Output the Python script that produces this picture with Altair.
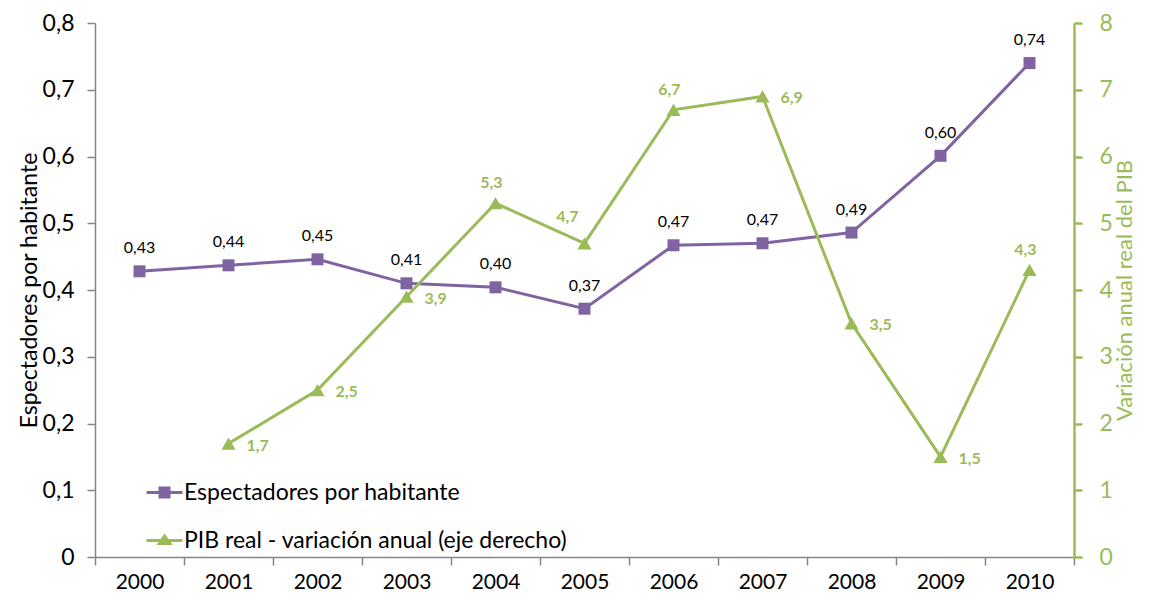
import json
import altair as alt
import pandas as pd

YEARS = ["2000", "2001", "2002", "2003", "2004", "2005", "2006", "2007", "2008", "2009", "2010"]
ESPECTADORES = [0.428, 0.437, 0.446, 0.410, 0.404, 0.372, 0.467, 0.470, 0.486, 0.601, 0.740]
PIB = [None, 1.7, 2.5, 3.9, 5.3, 4.7, 6.7, 6.9, 3.5, 1.5, 4.3]
SERIES = ["Espectadores por habitante", "PIB real - variación anual  (eje derecho)"]
LEFT_TICKS = [0, 0.1, 0.2, 0.3, 0.4, 0.5, 0.6, 0.7, 0.8]
RIGHT_TICKS = [0, 1, 2, 3, 4, 5, 6, 7, 8]
PIB_LABEL_ABOVE = ["2004", "2006", "2010"]
PIB_LABEL_ABOVE_LEFT = ["2005"]

PURPLE = "#8064A2"
GREEN = "#9BBB59"
GRAY = "#868686"
FONT = "Lato"

df = pd.DataFrame({"year": YEARS, "esp": ESPECTADORES, "pib": PIB})

x_enc = alt.X(
    "year:O",
    scale=alt.Scale(type="band", paddingInner=0, paddingOuter=0),
    axis=alt.Axis(
        title=None, tickBand="extent", labelAngle=0, grid=False,
        domainColor=GRAY, domainWidth=1.5, tickColor=GRAY, tickWidth=1.5, tickSize=8,
        labelFont=FONT, labelFontSize=21, labelColor="black", labelPadding=6,
    ),
)

base = alt.Chart(df).encode(x=x_enc)

y_left = alt.Y(
    "esp:Q",
    scale=alt.Scale(domain=[0, 0.8], nice=False, zero=True),
    axis=alt.Axis(
        orient="left", values=LEFT_TICKS, grid=False,
        labelExpr="datum.value == 0 ? '0' : replace(format(datum.value, '.1f'), '.', ',')",
        title="Espectadores por habitante", titleFont=FONT, titleFontSize=23,
        titleFontWeight="normal", titleColor="black", titlePadding=1,
        domainColor=GRAY, domainWidth=1.5, tickColor=GRAY, tickWidth=1.5, tickSize=8,
        labelFont=FONT, labelFontSize=23, labelColor="black", labelPadding=13,
    ),
)

esp_line = base.mark_line(color=PURPLE, strokeWidth=3).encode(y=y_left)
esp_pts = base.mark_point(shape="square", filled=True, size=144, color=PURPLE, opacity=1).encode(y=y_left)
esp_txt = base.mark_text(
    align="center", baseline="middle", dy=-23, font=FONT, fontSize=16, color="black"
).encode(y=y_left, text="lab:N").transform_calculate(
    lab="replace(format(datum.esp, '.2f'), '.', ',')"
)
esp_layer = alt.layer(esp_line, esp_pts, esp_txt)

y_right = alt.Y(
    "pib:Q",
    scale=alt.Scale(domain=[0, 8], nice=False, zero=True),
    axis=alt.Axis(
        orient="right", values=RIGHT_TICKS, format="d", grid=False,
        title="Variación anual real del PIB", titleFont=FONT, titleFontSize=22,
        titleFontWeight="normal", titleColor=GREEN, titlePadding=2,
        titleAngle=270, titleBaseline="top",
        domainColor=GREEN, domainWidth=2.5, tickColor=GREEN, tickWidth=2.5, tickSize=8,
        labelFont=FONT, labelFontSize=23, labelColor=GREEN, labelPadding=17,
    ),
)

pib_base = base.transform_filter("isValid(datum.pib)").transform_calculate(
    lab="replace(format(datum.pib, '.1f'), '.', ',')"
)
pib_line = pib_base.mark_line(color=GREEN, strokeWidth=3).encode(y=y_right)
pib_pts = pib_base.mark_point(shape="triangle-up", filled=True, size=200, color=GREEN, opacity=1).encode(y=y_right)

special = json.dumps(PIB_LABEL_ABOVE + PIB_LABEL_ABOVE_LEFT)
txt_style = dict(font=FONT, fontSize=16, fontWeight="bold", color=GREEN, baseline="middle")
pib_txt_right = pib_base.transform_filter(f"indexof({special}, datum.year) < 0").mark_text(
    align="left", dx=18, dy=2, **txt_style
).encode(y=y_right, text="lab:N")
pib_txt_above = pib_base.transform_filter(f"indexof({json.dumps(PIB_LABEL_ABOVE)}, datum.year) >= 0").mark_text(
    align="center", dx=-4, dy=-20, **txt_style
).encode(y=y_right, text="lab:N")
pib_txt_above_left = pib_base.transform_filter(f"indexof({json.dumps(PIB_LABEL_ABOVE_LEFT)}, datum.year) >= 0").mark_text(
    align="center", dx=-17, dy=-26, **txt_style
).encode(y=y_right, text="lab:N")
pib_layer = alt.layer(pib_line, pib_pts, pib_txt_right, pib_txt_above, pib_txt_above_left)

SQUARE_PATH = "M-1,0L1,0M-0.25,-0.25L0.25,-0.25L0.25,0.25L-0.25,0.25Z"
TRI_PATH = "M-1,0L1,0M-0.3,0.17L0,-0.25L0.3,0.17Z"

leg = alt.Legend(
    title=None, orient="none", legendX=50, legendY=450, direction="vertical",
    symbolSize=1296, symbolStrokeWidth=3, symbolOpacity=1, rowPadding=16,
    labelFont=FONT, labelFontSize=23, labelColor="black", labelOffset=0, padding=0,
    labelLimit=600,
)
legend_df = pd.DataFrame({"serie": SERIES})
legend_layer = alt.Chart(legend_df).mark_point(filled=True, strokeWidth=3, opacity=1).encode(
    shape=alt.Shape("serie:N", scale=alt.Scale(domain=SERIES, range=[SQUARE_PATH, TRI_PATH]), legend=leg),
    fill=alt.Fill("serie:N", scale=alt.Scale(domain=SERIES, range=[PURPLE, GREEN]), legend=leg),
    stroke=alt.Stroke("serie:N", scale=alt.Scale(domain=SERIES, range=[PURPLE, GREEN]), legend=leg),
).transform_filter("false")

chart = alt.layer(esp_layer, pib_layer, legend_layer).resolve_scale(
    y="independent"
).properties(
    width=979, height=534,
    padding={"left": 87, "top": 15, "right": 66, "bottom": 40},
    autosize=alt.AutoSizeParams(type="none"),
    background="white",
).configure_view(stroke=None)

chart.save("out.html", embed_options={"renderer": "svg", "actions": False})
